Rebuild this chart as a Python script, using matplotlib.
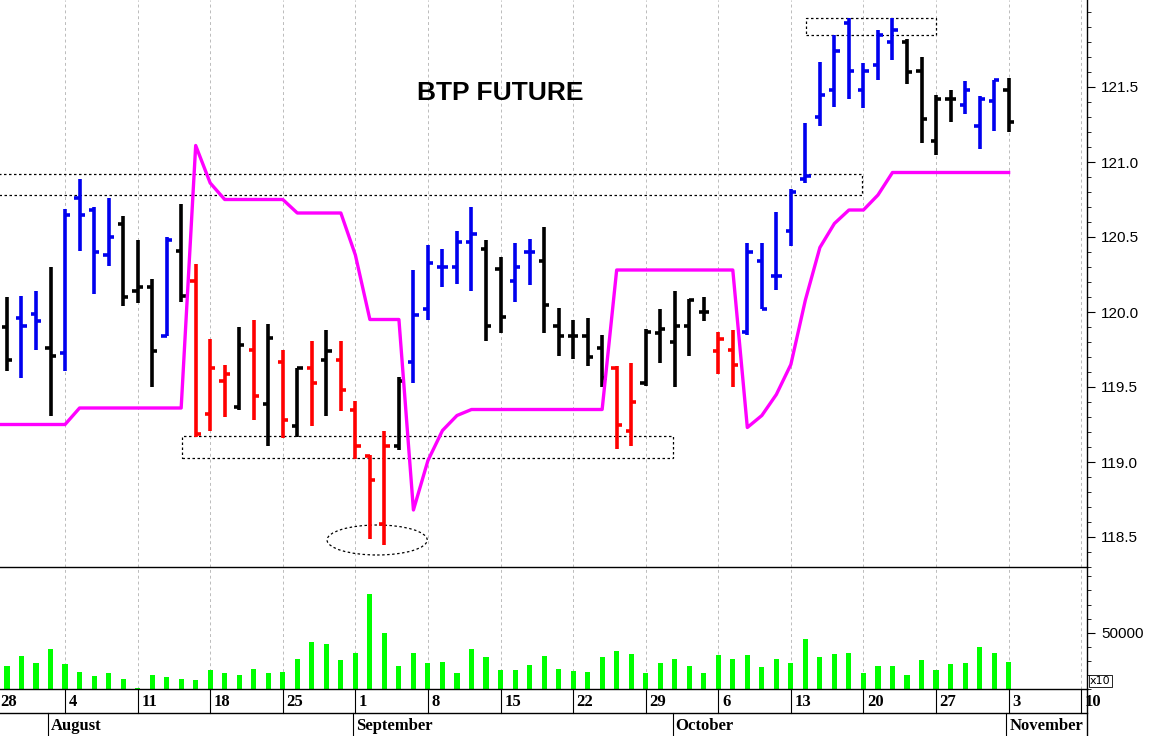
import matplotlib
matplotlib.use("Agg")
import matplotlib.pyplot as plt
from matplotlib.patches import Rectangle, Ellipse
import matplotlib.transforms as mtransforms

opens = [None,119.90,119.96,119.99,119.76,119.73,120.76,120.68,120.38,120.59,120.14,120.17,119.84,120.41,
         120.21,119.32,119.54,119.37,119.75,119.39,119.67,119.24,119.63,119.68,119.68,119.35,119.04,118.59,119.11,
         119.67,120.02,120.30,120.30,120.47,120.42,120.29,120.21,120.40,120.34,119.91,119.84,119.84,119.76,119.63,
         119.21,119.53,119.86,119.80,119.91,120.00,119.74,119.75,119.87,120.34,120.24,120.54,120.89,121.30,121.48,
         121.93,121.48,121.65,121.80,121.80,121.61,121.14,121.42,121.38,121.24,121.41,121.48]
highs = [None,120.10,120.11,120.14,120.30,120.69,120.89,120.70,120.76,120.64,120.48,120.22,120.50,120.72,
         120.32,119.82,119.65,119.90,119.95,119.92,119.75,119.63,119.81,119.88,119.81,119.41,119.05,119.21,119.57,
         120.28,120.45,120.42,120.54,120.70,120.48,120.37,120.46,120.49,120.57,120.03,119.95,119.96,119.85,119.64,
         119.66,119.89,120.02,120.14,120.09,120.10,119.87,119.88,120.46,120.46,120.67,120.82,121.26,121.67,121.85,
         121.96,121.66,121.88,121.96,121.82,121.70,121.45,121.48,121.54,121.44,121.55,121.56]
lows = [None,119.61,119.56,119.75,119.31,119.61,120.41,120.12,120.31,120.04,120.06,119.50,119.84,120.07,
        119.17,119.21,119.30,119.35,119.28,119.11,119.16,119.17,119.24,119.31,119.34,119.02,118.49,118.45,119.08,
        119.53,119.95,120.17,120.19,120.14,119.81,119.86,120.07,120.18,119.86,119.71,119.69,119.64,119.50,119.09,
        119.11,119.51,119.66,119.50,119.71,119.94,119.59,119.50,119.85,120.02,120.15,120.44,120.86,121.24,121.37,
        121.42,121.36,121.55,121.68,121.52,121.13,121.05,121.27,121.32,121.09,121.21,121.20]
closes = [None,119.68,119.91,119.94,119.71,120.65,120.65,120.40,120.50,120.10,120.17,119.74,120.48,120.11,
          119.19,119.63,119.59,119.78,119.44,119.83,119.28,119.63,119.53,119.74,119.48,119.11,118.88,119.11,119.54,
          119.98,120.33,120.30,120.47,120.52,119.91,119.97,120.30,120.40,120.05,119.84,119.84,119.70,119.56,119.25,
          119.40,119.87,119.89,119.91,120.08,120.00,119.82,119.65,120.40,120.02,120.24,120.80,120.91,121.45,121.74,
          121.61,121.61,121.85,121.88,121.60,121.29,121.42,121.42,121.48,121.42,121.55,121.27]
bar_colors = [None] + list("kbbkbbbbkkkbk" "rrrkrkrkrkrr" "rrkbbbbbkkbbk" "kkkkrrkkkkkrr" "bbbbbbbbbbb" "kkkkbbbk")
stop_line = [119.25]*6 + [119.36]*8 + [121.11,120.86,120.75,120.75,120.75,120.75,120.75,120.66,120.66,120.66,120.66,
             120.38,119.95,119.95,119.95,118.68,119.01,119.21,119.31] + [119.35]*10 + [120.28]*9 + \
            [119.23,119.31,119.45,119.65,120.08,120.43,120.59,120.68,120.68,120.78] + [120.93]*9
volumes = [None,20400,29300,23100,35800,21900,15100,11500,14200,9200,1200,12700,10400,9200,8000,16600,14500,12700,
           17800,14500,15100,26900,42000,40000,25800,32000,84400,50000,20400,32000,22800,24300,14200,35800,28400,
           16900,16900,21600,29300,17800,15700,15100,28400,33700,30800,14200,23100,26600,20400,14200,30200,26600,
           30500,19200,26600,23100,44700,28400,30800,32000,14200,20400,20400,12400,25800,16900,21900,23100,37000,
           32000,24300]
week_labels = ["28","4","11","18","25","1","8","15","22","29","6","13","20","27","3","10"]
month_names = ["August","September","October","November"]
month_starts = [4, 25, 47, 70]
price_ticks = [118.5, 119.0, 119.5, 120.0, 120.5, 121.0, 121.5]

colmap = {"k": "black", "b": "#0000ee", "r": "#ff0000"}
W, H = 1159, 736
fig = plt.figure(figsize=(W/100, H/100), dpi=100)
xl, xr = 0.52, 75.4
axw = 1087/W
ax = fig.add_axes([0, 1-567/H, axw, 567/H])
axv = fig.add_axes([0, 1-689/H, axw, 122/H])
axv.patch.set_visible(False)
for a in (ax, axv):
    a.set_xlim(xl, xr)
    for s in a.spines.values():
        s.set_linewidth(1.0)
        s.set_color("black")
    a.spines['left'].set_visible(False)
    a.spines['top'].set_visible(False)
    for m in range(0, 80, 5):
        a.axvline(m, color="#bbbbbb", lw=0.7, ls=(0, (3, 3)), zorder=0)
    a.set_xticks([])
ax.spines['bottom'].set_zorder(10)

ax.set_ylim(118.30, 122.08)
tk = 0.36
for i in range(1, len(opens)):
    c = colmap[bar_colors[i]]
    ax.plot([i, i], [lows[i], highs[i]], color=c, lw=2.6, solid_capstyle="butt")
    ax.plot([i-tk, i], [opens[i], opens[i]], color=c, lw=2.6, solid_capstyle="butt")
    ax.plot([i, i+tk], [closes[i], closes[i]], color=c, lw=2.6, solid_capstyle="butt")
ax.plot(range(len(stop_line)), stop_line, color="#ff00ff", lw=2.4, zorder=3)

box = dict(fill=False, ls=(0, (2, 2)), lw=0.9, ec="black")
ax.add_patch(Rectangle((0.3, 120.78), 59.6, 0.14, **box))
ax.add_patch(Rectangle((13.06, 119.03), 33.84, 0.14, **box))
ax.add_patch(Rectangle((56.07, 121.85), 8.9, 0.11, **box))
ax.add_patch(Ellipse((26.5, 118.48), 6.9, 0.2, **box))
ax.text(35.0, 121.46, "BTP FUTURE", fontsize=19, fontweight="bold", family="Liberation Sans",
        ha="center", va="center")

for a in (ax, axv):
    a.yaxis.tick_right()
    a.tick_params(axis="y", direction="out", length=6, labelsize=11, pad=4)
ax.set_yticks(price_ticks)
ax.set_yticks([118.3 + 0.1*k for k in range(38)], minor=True)
ax.tick_params(axis="y", which="minor", length=3, direction="out")
for lab in ax.get_yticklabels():
    lab.set_family("Liberation Sans")

axv.set_ylim(0, 108300)
axv.bar(range(1, len(volumes)), volumes[1:], width=0.35, color="#00ff00")
axv.set_yticks([50000])
axv.set_yticks([12500*k for k in range(9)], minor=True)
axv.tick_params(axis="y", which="minor", length=3, direction="out")
axv.set_yticklabels(["50000"], family="Liberation Sans")
fig.text(1090/W, 1-681/H, "x10", fontsize=8, va="center",
         bbox=dict(fc="white", ec="black", lw=0.6, pad=1))

# date axis
trans = mtransforms.blended_transform_factory(axv.transData, fig.transFigure)
fig.add_artist(plt.Line2D([0, axw], [1-713/H, 1-713/H], color="black", lw=1))
fig.add_artist(plt.Line2D([axw, axw], [0, 1-689/H], color="black", lw=1))
for k, lab in enumerate(week_labels):
    x = 5*k
    fig.add_artist(plt.Line2D([x, x], [1-713/H, 1-689/H], transform=trans, color="black", lw=0.8))
    fig.text(max(x+0.25, 0.55), 1-702/H, lab, transform=trans, fontsize=12, family="Liberation Serif",
             fontweight="bold", va="center", ha="left")
for nm, st in zip(month_names, month_starts):
    fig.add_artist(plt.Line2D([st-0.15, st-0.15], [0, 1-713/H], transform=trans, color="black", lw=0.8))
    fig.text(st+0.05, 1-726/H, nm, transform=trans, fontsize=12, family="Liberation Serif",
             fontweight="bold", va="center", ha="left")
fig.savefig("out.png", dpi=100)
